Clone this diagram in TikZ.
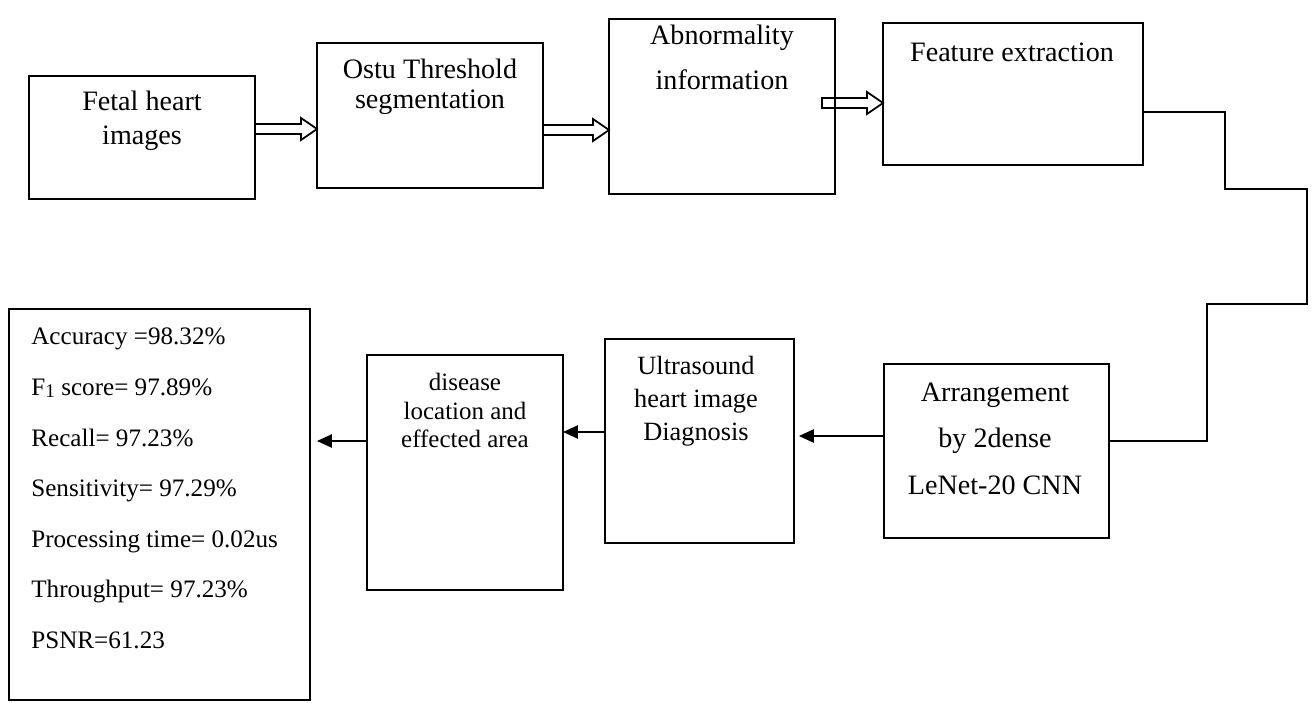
\documentclass[tikz,border=0pt]{standalone}
\usepackage{fontspec}
\setmainfont{Liberation Serif}
\usetikzlibrary{arrows.meta,calc}
\tikzset{
  box/.style  = {draw, line width=1.1pt, inner sep=0pt, outer sep=0pt},
  lbl/.style  = {align=center, inner sep=0pt, font=\fontsize{16}{19}\selectfont},
  conn/.style = {line width=1.1pt},
  flow/.style = {line width=1.1pt, -{Triangle[length=8.5pt,width=7.5pt]}},
  hollow/.style = {line width=1pt, line join=miter}
}
% outlined block arrow, tail at #1, tip at #2 (both on one row)
\newcommand{\hollowarrow}[2]{%
  \draw[hollow] ($(#1)+(0,-5)$) -- ($(#2)+(-16,-5)$) -- ($(#2)+(-16,-11)$) -- (#2)
    -- ($(#2)+(-16,11)$) -- ($(#2)+(-16,5)$) -- ($(#1)+(0,5)$) -- cycle;}

\begin{document}
\begin{tikzpicture}[x=0.02cm, y=-0.02cm]
\useasboundingbox (0,0) rectangle (1312,703);

% top row
\node[box, minimum width=4.52cm, minimum height=2.46cm] (fetal) at (142,137.5) {};
\node[box, minimum width=4.52cm, minimum height=2.90cm] (ostu) at (430,115.5) {};
\node[box, minimum width=4.52cm, minimum height=3.50cm] (abnorm) at (722,106.5) {};
\node[box, minimum width=5.20cm, minimum height=2.84cm] (feature) at (1013,94) {};

\node[lbl, font=\fontsize{16}{19.3}\selectfont] (fetaltxt) at (142,121) {Fetal heart\\images};
\node[lbl, font=\fontsize{16}{17}\selectfont] (ostutxt) at (430,87) {Ostu Threshold\\segmentation};
\node[lbl, font=\fontsize{16}{25.5}\selectfont] (abnormtxt) at (722,57.5) {Abnormality\\information};
\node[lbl] (featuretxt) at (1012,52) {Feature extraction};

% bottom row
\node[box, minimum width=6.02cm, minimum height=7.82cm] (results) at (159.5,504.5) {};
\node[box, minimum width=3.92cm, minimum height=4.70cm] (disease) at (465,472.5) {};
\node[box, minimum width=3.78cm, minimum height=4.08cm] (ultra) at (699.5,441) {};
\node[box, minimum width=4.50cm, minimum height=3.48cm] (arrange) at (996.5,451) {};

\node[lbl, font=\fontsize{14.2}{16.4}\selectfont] (diseasetxt) at (465,410.5) {disease\\location and\\effected area};
\node[lbl, font=\fontsize{15}{18.7}\selectfont] (ultratxt) at (696,401) {Ultrasound\\heart image\\Diagnosis};
\node[lbl, font=\fontsize{16}{26.4}\selectfont] (arrangetxt) at (995,438.5) {Arrangement\\by 2dense\\LeNet-20 CNN};

\node[anchor=west, align=left, inner sep=0pt, font=\fontsize{14.3}{28.8}\selectfont] (scores) at (31,488.5)
  {Accuracy =98.32\%\\
   F{\fontsize{11}{11}\selectfont\raisebox{-1pt}{1}} score= 97.89\%\\
   Recall= 97.23\%\\
   Sensitivity= 97.29\%\\
   Processing time= 0.02us\\
   Throughput= 97.23\%\\
   PSNR=61.23};

% rows the connectors run on
\coordinate (h1) at (0,129);
\coordinate (h2) at (0,130);
\coordinate (h3) at (0,103);
\coordinate (fy) at (0,112);
\coordinate (ay) at (0,441);
\coordinate (b1) at (0,436);
\coordinate (b2) at (0,432);
\coordinate (b3) at (0,441);

% hollow arrows along the top
\coordinate (h1a) at (fetal.east |- h1);
\coordinate (h1b) at (ostu.west |- h1);
\coordinate (h2a) at (ostu.east |- h2);
\coordinate (h2b) at (abnorm.west |- h2);
\coordinate (h3a) at ([xshift=-0.26cm]abnorm.east |- h3);
\coordinate (h3b) at (feature.west |- h3);
\hollowarrow{h1a}{h1b}
\hollowarrow{h2a}{h2b}
\hollowarrow{h3a}{h3b}

% link down to the classifier
\draw[conn] (feature.east |- fy) -| (1225,189) -| (1307,304) -| (1207,441) -- (arrange.east |- ay);

% solid arrows along the bottom
\draw[flow, shorten >=2.8pt] (arrange.west |- b1) -- (ultra.east |- b1);
\draw[flow] (ultra.west |- b2) -- (disease.east |- b2);
\draw[flow, shorten >=4pt] (disease.west |- b3) -- (results.east |- b3);
\end{tikzpicture}
\end{document}
